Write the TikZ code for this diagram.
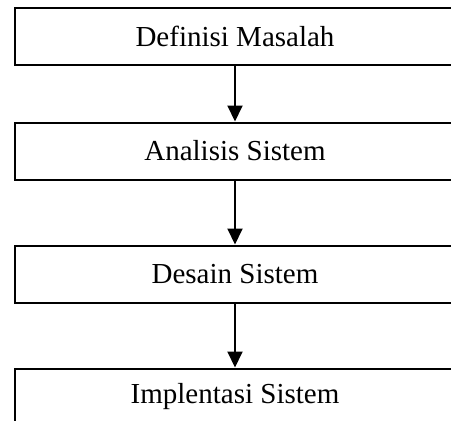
\documentclass[tikz,border=0pt]{standalone}
\usepackage{fontspec}
\setmainfont{Liberation Serif}
\usetikzlibrary{arrows.meta}

\newcommand{\langkah}[3]{%
 \node[langkah] ({#1}) at ({#2}) {#3};%
}

\begin{document}
\begin{tikzpicture}[x=1pt,y=-1pt,
  langkah/.style={draw,line width=2pt,rectangle,minimum width=441pt,minimum height=57pt,
    inner sep=0pt,font=\fontsize{29}{34}\selectfont},
  panah/.style={line width=2pt,-{Triangle[width=15pt,length=16pt]}}]
  \useasboundingbox (0,0) rectangle (451,421);
  \clip (0,0) rectangle (451,421);
  \langkah{def}{235,36.5}{Definisi Masalah};
  \langkah{ana}{235,151}{Analisis Sistem};
  \langkah{des}{235,274}{Desain Sistem};
  \langkah{imp}{235,397}{Implentasi Sistem};
  \draw[panah] (def) -- (ana);
  \draw[panah] (ana) -- (des);
  \draw[panah] (des) -- (imp);
\end{tikzpicture}
\end{document}
